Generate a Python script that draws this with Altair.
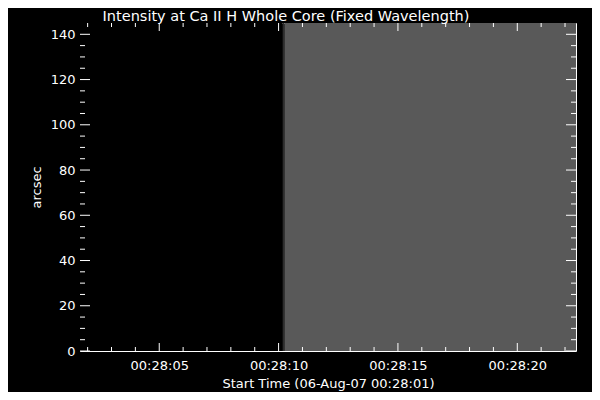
import altair as alt
import pandas as pd

TITLE = "Intensity at Ca II H Whole Core (Fixed Wavelength)"

# image columns: time (s after 00:28:00) start/end and gray level
seg_start = [1.68, 10.17, 10.25]
seg_end = [10.17, 10.25, 22.46]
seg_level = [0, 45, 89]

x_major = [5, 10, 15, 20]
x_minor = [t for t in range(2, 23) if t % 5 != 0]
y_major = [0, 20, 40, 60, 80, 100, 120, 140]
y_minor = [v for v in range(5, 145, 5) if v % 20 != 0]

W, H = 496, 328
XD = [1.68, 22.46]
YD = [0, 145]
FONT = "DejaVu Sans"

img = pd.DataFrame({
    "t0": seg_start, "t1": seg_end,
    "fill": ["#%02x%02x%02x" % (g, g, g) for g in seg_level],
})

xs = alt.Scale(domain=XD, nice=False, zero=False)
ys = alt.Scale(domain=YD, nice=False, zero=False)

base = alt.Chart(img).mark_rect().encode(
    x=alt.X("t0:Q", scale=xs, axis=alt.Axis(
        values=x_major, ticks=False, domain=False, grid=False,
        labelExpr="'00:28:' + (datum.value < 10 ? '0' : '') + datum.value",
        labelPadding=8, labelFontSize=13, labelFont=FONT, labelColor="white",
        title="Start Time (06-Aug-07 00:28:01)", titleFont=FONT, titleFontSize=13,
        titleFontWeight="normal", titleColor="white", titleX=W / 2, titleY=36,
        titleAlign="center", titleBaseline="alphabetic")),
    x2="t1:Q",
    y=alt.Y("y0:Q", scale=ys, axis=alt.Axis(
        values=y_major, ticks=False, domain=False, grid=False,
        labelPadding=5, labelFontSize=13, labelFont=FONT, labelColor="white",
        title="arcsec", titleFont=FONT, titleFontSize=13, titleFontWeight="normal",
        titleColor="white", titleX=-40, titleY=H / 2, titleAngle=-90,
        titleAlign="center", titleBaseline="alphabetic")),
    y2="y1:Q",
    fill=alt.Fill("fill:N", scale=None),
).transform_calculate(y0="0", y1="145")

def xticks(vals, length):
    d = pd.DataFrame({"t": vals})
    bottom = alt.Chart(d).mark_rule(color="white", strokeWidth=1).encode(
        x=alt.X("t:Q", scale=xs), y=alt.value(H), y2=alt.value(H - length))
    top = alt.Chart(d).mark_rule(color="white", strokeWidth=1).encode(
        x=alt.X("t:Q", scale=xs), y=alt.value(0), y2=alt.value(length))
    return [bottom, top]

def yticks(vals, length):
    d = pd.DataFrame({"v": vals})
    left = alt.Chart(d).mark_rule(color="white", strokeWidth=1).encode(
        y=alt.Y("v:Q", scale=ys), x=alt.value(0), x2=alt.value(length))
    right = alt.Chart(d).mark_rule(color="white", strokeWidth=1).encode(
        y=alt.Y("v:Q", scale=ys), x=alt.value(W - length), x2=alt.value(W))
    return [left, right]

title_mark = alt.Chart(pd.DataFrame({"t": [TITLE]})).mark_text(
    font=FONT, fontSize=14.5, color="white", align="center", baseline="alphabetic"
).encode(x=alt.value(206), y=alt.value(-2), text="t:N")

layers = [base] + xticks(x_major, 8) + xticks(x_minor, 4) + yticks(y_major, 10) + yticks(y_minor, 5) + [title_mark]

chart = alt.layer(*layers).properties(
    width=W, height=H,
    autosize=alt.AutoSizeParams(type="none"),
    padding={"left": 72, "top": 15, "right": 16, "bottom": 41},
).configure(background="#000000").configure_view(stroke="white", strokeWidth=1)

chart.save("out.html", embed_options={"renderer": "svg", "actions": False})
